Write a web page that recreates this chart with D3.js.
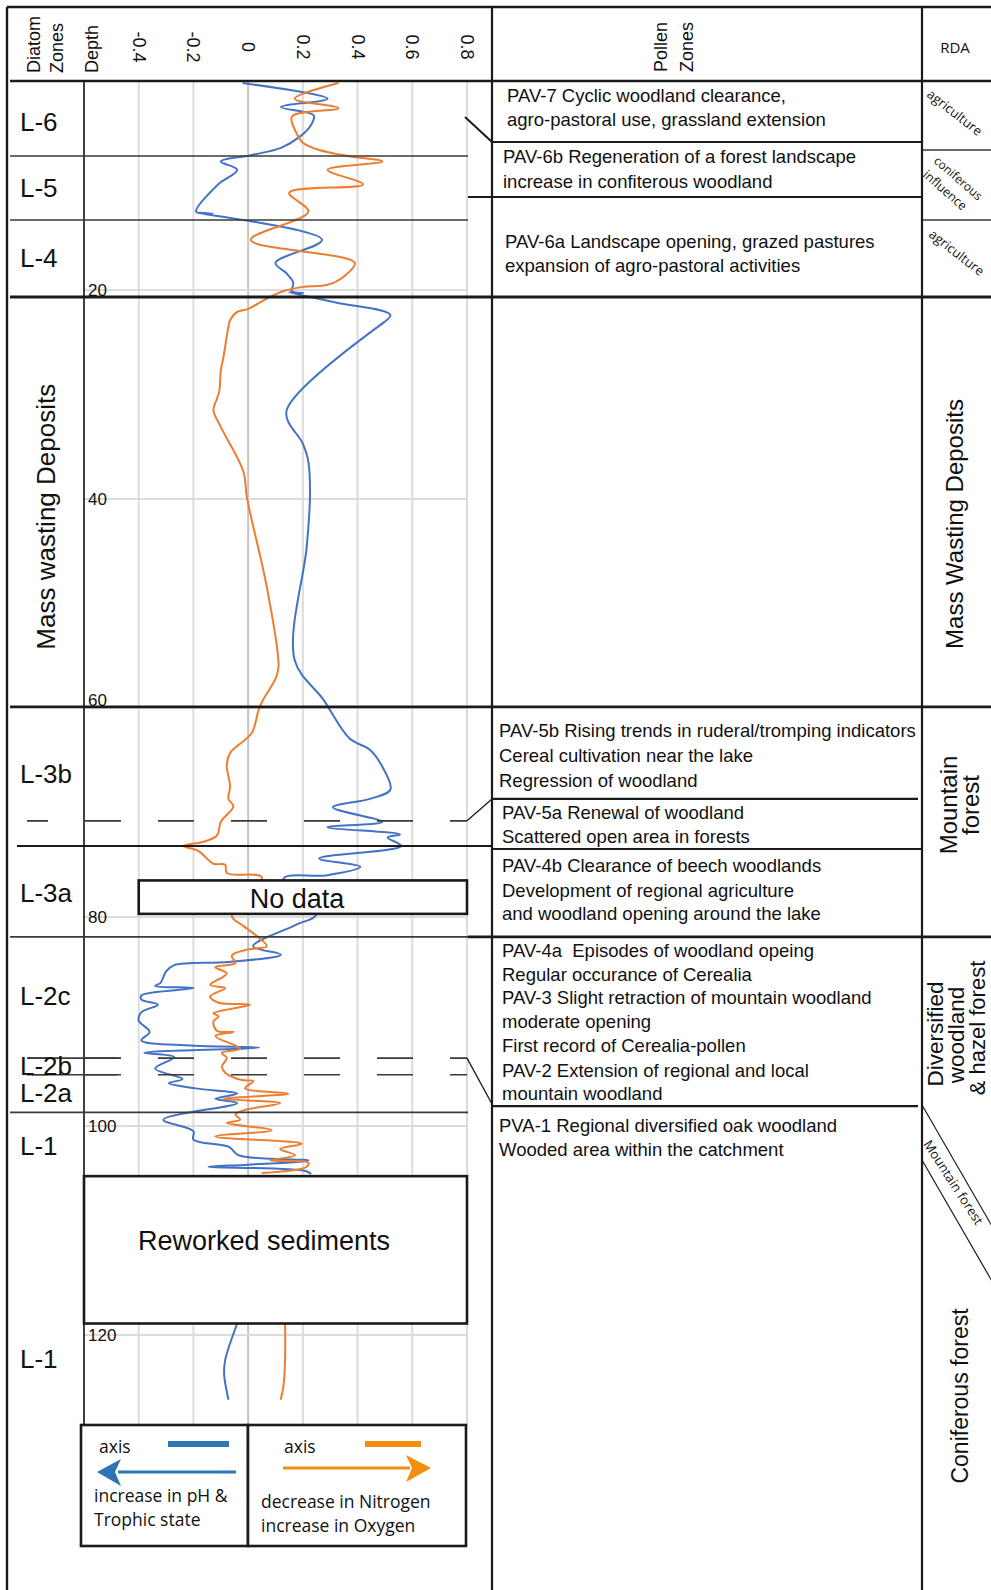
<!DOCTYPE html>
<html><head><meta charset="utf-8">
<script src="https://cdn.jsdelivr.net/npm/d3@7"></script>
<style>body{margin:0;background:#fff}svg{display:block}text{white-space:pre}</style>
</head><body>
<svg id="c" width="991" height="1590"></svg>
<script>
// ---------- DATA ----------
const scoreTicks = [-0.4, -0.2, 0, 0.2, 0.4, 0.6, 0.8];
const depthTicks = [20, 40, 60, 80, 100, 120];

// [depth, score] — blue: pH / trophic axis
const phUpper = [[0.2,-0.02],[1.7,0.29],[2.5,0.12],[3.3,0.24],[4.2,0.23],[5.3,0.19],[6.4,0.12],[7.1,0.01],[7.7,-0.10],[8.5,-0.04],[9.9,-0.11],[12.5,-0.19],[12.7,-0.13],[12.6,-0.18],[15.2,0.27],[17.4,0.10],[18.4,0.14],[19.3,0.165],[20.1,0.16],[20.3,0.20],[20.2,0.15],[21.2,0.32],[22.4,0.52],[23.6,0.47],[23.0,0.50],[31.6,0.14],[34.7,0.20],[36.4,0.22],[39.8,0.226],[44.6,0.214],[55.4,0.17],[59.2,0.275],[62.9,0.37],[64.0,0.445],[65.6,0.49],[67.8,0.52],[68.7,0.445],[69.5,0.31],[70.9,0.49],[71.4,0.29],[72.1,0.555],[72.4,0.51],[73.2,0.56],[74.4,0.26],[75.2,0.41],[76.0,0.29],[76.3,0.13],[79.7,0.25],[80.8,0.17],[82.8,0.018],[83.6,0.12],[84.3,-0.07],[84.6,-0.27],[85.2,-0.30],[86.3,-0.32],[86.6,-0.34],[86.8,-0.20],[87.5,-0.39],[87.9,-0.39],[88.4,-0.33],[89.1,-0.39],[89.9,-0.40],[91.0,-0.36],[91.8,-0.39],[92.3,-0.21],[92.5,0.04],[93.0,-0.38],[93.4,-0.27],[94.5,-0.34],[95.5,-0.24],[95.9,-0.29],[96.4,-0.19],[96.9,-0.04],[97.4,-0.12],[97.8,-0.04],[99.4,-0.31],[100.5,-0.20],[101.3,-0.20],[102.0,-0.07],[102.8,-0.035],[103.3,0.22],[103.7,0.0],[103.9,-0.145],[104.3,0.21],[104.6,0.23]];
const phLower = [[118.9,-0.04],[122.4,-0.084],[123.7,-0.088],[126.2,-0.072]];

// [depth, score] — orange: nitrogen / oxygen axis
const nUpper = [[0.2,0.33],[1.7,0.17],[2.6,0.33],[3.4,0.16],[5.0,0.177],[5.9,0.20],[6.6,0.26],[7.2,0.37],[7.7,0.49],[8.5,0.29],[9.9,0.42],[10.7,0.15],[12.5,0.22],[15.2,0.01],[17.4,0.39],[18.7,0.35],[19.5,0.29],[19.7,0.20],[20.1,0.13],[20.8,0.07],[21.8,0.0],[22.1,-0.04],[22.9,-0.066],[23.5,-0.072],[26.4,-0.09],[27.7,-0.10],[29.6,-0.105],[30.4,-0.114],[31.5,-0.127],[33.1,-0.10],[37.4,-0.017],[39.8,-0.005],[48.4,0.068],[56.0,0.111],[57.2,0.10],[59.2,0.055],[60.2,0.038],[62.4,0.013],[64.3,-0.066],[65.5,-0.078],[67.5,-0.066],[68.7,-0.072],[69.4,-0.054],[70.9,-0.10],[72.2,-0.114],[72.8,-0.163],[73.2,-0.236],[73.7,-0.181],[74.9,-0.127],[75.0,-0.084],[75.8,-0.078],[76.2,0.05],[79.9,-0.06],[80.8,-0.02],[82.0,0.04],[82.8,0.068],[83.1,0.0],[83.7,-0.06],[84.4,-0.047],[84.8,-0.12],[85.4,-0.078],[86.5,-0.139],[86.8,-0.084],[87.6,-0.139],[88.2,-0.108],[88.4,0.007],[89.2,-0.127],[89.5,-0.108],[90.0,-0.127],[90.9,-0.114],[91.0,-0.054],[91.4,-0.12],[92.6,-0.029],[93.0,-0.096],[93.5,-0.078],[94.3,-0.096],[94.9,-0.084],[95.6,-0.023],[95.7,0.019],[96.4,-0.011],[96.9,0.147],[97.4,-0.09],[97.8,0.117],[98.5,-0.017],[98.9,-0.047],[99.4,-0.029],[99.7,-0.078],[100.4,0.086],[101.0,-0.12],[101.7,0.196],[102.2,0.117],[102.8,0.172],[103.3,0.08],[103.5,0.22],[103.9,0.214],[104.5,0.05]];
const nLower = [[118.9,0.135],[122.4,0.135],[124.9,0.129],[126.2,0.119]];

// Diatom zone labels [label, depth of baseline]
const diatomLabels = [["L-6",4.8],["L-5",11.1],["L-4",17.8],["L-3b",67.2],["L-3a",78.6],["L-2c",88.4],["L-2b",95.1],["L-2a",97.7],["L-1",102.8],["L-1",123.2]];
// zone boundaries (depth)
const thinBounds = [7.18, 13.3, 98.7];
const thickBounds = [20.67, 59.9];
const dashedBounds = [70.8, 93.5, 95.1];
// annotation boxes [label, xFrom, xTo, depthFrom, depthTo]
const boxes = [["No data",-0.4,0.8,76.5,79.7],["Reworked sediments",-0.6,0.8,104.8,118.9]];

// Pollen zone text blocks: [x, baselines, lines]
const pollenBlocks = [
 [507,[102,126],["PAV-7 Cyclic woodland clearance,","agro-pastoral use, grassland extension"]],
 [503,[163,188],["PAV-6b Regeneration of a forest landscape","increase in confiterous woodland"]],
 [505,[248,272],["PAV-6a Landscape opening, grazed pastures","expansion of agro-pastoral activities"]],
 [499,[737,762,787],["PAV-5b Rising trends in ruderal/tromping indicators","Cereal cultivation near the lake","Regression of woodland"]],
 [502,[819,843],["PAV-5a Renewal of woodland","Scattered open area in forests"]],
 [502,[872,897,920],["PAV-4b Clearance of beech woodlands","Development of regional agriculture","and woodland opening around the lake"]],
 [502,[957,981,1004,1028,1052,1077,1100],["PAV-4a  Episodes of woodland opeing","Regular occurance of Cerealia","PAV-3 Slight retraction of mountain woodland","moderate opening","First record of Cerealia-pollen","PAV-2 Extension of regional and local","mountain woodland"]],
 [499,[1132,1156],["PVA-1 Regional diversified oak woodland","Wooded area within the catchment"]]
];

// ---------- DRAW ----------
const svg = d3.select("#c");
const SANS = "'Liberation Sans', Arial, sans-serif";
const MYR = "'Open Sans', sans-serif";
const x = d3.scaleLinear().domain([-0.6, 0.8]).range([84, 467]);
const y = d3.scaleLinear().domain([0, 120]).range([81, 1335]);
const plotBottom = 1425;

// grid
const grid = svg.append("g");
grid.selectAll("line.v").data(scoreTicks).join("line")
  .attr("x1", d => x(d)).attr("x2", d => x(d)).attr("y1", y(0)).attr("y2", plotBottom)
  .attr("stroke", d => d === 0 ? "#c4c4c4" : "#dcdcdc").attr("stroke-width", 2);
grid.selectAll("line.h").data(depthTicks).join("line")
  .attr("x1", x(-0.6)).attr("x2", x(0.8)).attr("y1", d => y(d)).attr("y2", d => y(d))
  .attr("stroke", "#dcdcdc").attr("stroke-width", 2);

// depth axis
svg.append("line").attr("x1", x(-0.6)).attr("x2", x(-0.6)).attr("y1", y(0)).attr("y2", plotBottom)
  .attr("stroke", "#111").attr("stroke-width", 1.6);
const dAx = svg.append("g").attr("transform", `translate(${x(-0.6)},0)`)
  .call(d3.axisRight(y).tickValues(depthTicks).tickSize(0).tickPadding(4));
dAx.select(".domain").remove();
dAx.selectAll("text").attr("font-family", SANS).attr("font-size", 17).attr("fill", "#111")
  .attr("dy", d => d === 60 ? "-0.15em" : "0.32em");

// score axis labels (rotated)
const sAx = svg.append("g").attr("transform", "translate(0,47)")
  .call(d3.axisTop(x).tickValues(scoreTicks).tickSize(0).tickFormat(d => d === 0 ? "0" : d.toFixed(1)));
sAx.select(".domain").remove();
sAx.selectAll("text").attr("y", 0).attr("dy", "0.36em").attr("text-anchor", "middle")
  .attr("transform", "rotate(90)").attr("font-family", SANS).attr("font-size", 18).attr("fill", "#111");

// series lines
const line = d3.line().x(d => x(d[1])).y(d => y(d[0])).curve(d3.curveCatmullRom.alpha(0.5));
[[phUpper,"#4472c4"],[phLower,"#4472c4"],[nUpper,"#ed7d31"],[nLower,"#ed7d31"]].forEach(([dat,c]) => {
  svg.append("path").datum(dat).attr("d", line).attr("fill", "none").attr("stroke", c)
    .attr("stroke-width", 2).attr("stroke-linejoin", "round");
});

// annotation boxes
boxes.forEach(([lab,a,b,d0,d1], i) => {
  svg.append("rect").attr("x", x(a)).attr("y", y(d0)).attr("width", x(b) - x(a)).attr("height", y(d1) - y(d0))
    .attr("fill", "#fff").attr("stroke", "#1a1a1a").attr("stroke-width", 2.6);
  svg.append("text").attr("x", i === 0 ? 297 : 264).attr("y", i === 0 ? y(d0) + 28 : y(d0) + 74)
    .attr("text-anchor", "middle").attr("font-family", SANS).attr("font-size", 27).attr("fill", "#111").text(lab);
});

// zone boundary lines
const L = (x1,y1,x2,y2,w,c,dash) => {
  const l = svg.append("line").attr("x1",x1).attr("y1",y1).attr("x2",x2).attr("y2",y2)
    .attr("stroke", c || "#1a1a1a").attr("stroke-width", w);
  if (dash) l.attr("stroke-dasharray", dash).attr("stroke-dashoffset", 15);
  return l;
};
thinBounds.forEach(d => L(10, y(d), 468, y(d), 1.6, "#3a3a3a"));
thickBounds.forEach(d => L(10, y(d), 991, y(d), 2.8));
L(17, y(73.2), 492, y(73.2), 2);          // L-3b / L-3a
L(10, y(81.9), 468, y(81.9), 1.6, "#3a3a3a");
L(468, y(81.9), 991, y(81.9), 2.8);
dashedBounds.forEach(d => L(27, y(d), 467, y(d), 1.6, "#3a3a3a", "36 37"));
L(28, y(dashedBounds[1]), 118, y(dashedBounds[1]), 1.6, "#3a3a3a");
L(32, y(dashedBounds[2]), 117, y(dashedBounds[2]), 1.6, "#3a3a3a");
// pollen zone lines
L(492, y(5.84), 922, y(5.84), 2);
L(468, y(11.1), 922, y(11.1), 2);
L(492, y(68.7), 918, y(68.7), 2.4);
L(492, y(73.5), 922, y(73.5), 2);
L(492, y(98.1), 918, y(98.1), 2.4);
// connectors
L(465, y(3.45), 492, y(5.84), 2);
L(467, y(70.8), 492, y(68.7), 1.3);
L(467, y(93.5), 492, y(97.9), 1.3);
// RDA lines
L(922, y(6.6), 991, y(6.6), 1.6, "#3a3a3a");
L(922, y(13.3), 991, y(13.3), 1.6, "#3a3a3a");
L(922, 1105, 1000, 1240, 1.2);
L(922, 1160, 1000, 1295, 1.2);

// frame
L(7, 7, 991, 7, 2.4);
L(7, 7, 7, 1590, 2.4);
L(492, 7, 492, 1590, 2.2);
L(922, 7, 922, 1590, 2.2);
L(10, 81, 991, 81, 2.4);

// headers
const vtext = (tx, ty, str, size, fam, anchor) => svg.append("text")
  .attr("transform", `translate(${tx},${ty}) rotate(-90)`).attr("text-anchor", anchor || "start")
  .attr("font-family", fam || SANS).attr("font-size", size).attr("fill", "#111").text(str);
vtext(40, 73, "Diatom", 18);
vtext(63, 73, "Zones", 18);
vtext(98, 73, "Depth", 18);
vtext(667, 72, "Pollen", 18);
vtext(693, 72, "Zones", 18);
svg.append("text").attr("x", 955).attr("y", 53).attr("text-anchor", "middle")
  .attr("font-family", MYR).attr("font-size", 15).attr("fill", "#111").text("RDA");

// diatom zone labels
svg.selectAll("text.dz").data(diatomLabels).join("text")
  .attr("x", 20).attr("y", d => y(d[1])).attr("font-family", SANS).attr("font-size", 26).attr("fill", "#111")
  .text(d => d[0]);
vtext(55, y(41.7), "Mass wasting Deposits", 26, SANS, "middle");

// pollen texts
pollenBlocks.forEach(([px, ys, lines]) => {
  lines.forEach((t, i) => svg.append("text").attr("x", px).attr("y", ys[i])
    .attr("font-family", SANS).attr("font-size", 18.5).attr("fill", "#111").text(t));
});

// RDA column texts
const rtext = (tx, ty, ang, str, size) => svg.append("text")
  .attr("transform", `translate(${tx},${ty}) rotate(${ang})`).attr("font-family", MYR)
  .attr("font-size", size).attr("fill", "#111").text(str);
rtext(926, 96, 38, "agriculture", 13);
rtext(933, 162, 41, "coniferous", 12);
rtext(922, 176, 41, "influence", 12.5);
rtext(928, 236, 38, "agriculture", 13);
rtext(923, 1144, 57, "Mountain forest", 13);
vtext(963, 524, "Mass Wasting Deposits", 24, SANS, "middle");
vtext(957, 805, "Mountain", 24, SANS, "middle");
vtext(979, 805, "forest", 24, SANS, "middle");
vtext(943, 1034, "Diversified", 22.5, SANS, "middle");
vtext(964, 1035, "woodland", 22.5, SANS, "middle");
vtext(985, 1028, "& hazel forest", 22, SANS, "middle");
vtext(968, 1396, "Coniferous forest", 23, SANS, "middle");

// legend
const lg = svg.append("g");
lg.append("rect").attr("x", 81).attr("y", 1425).attr("width", 167).attr("height", 121)
  .attr("fill", "#fff").attr("stroke", "#1a1a1a").attr("stroke-width", 2.6);
lg.append("rect").attr("x", 248).attr("y", 1425).attr("width", 218).attr("height", 121)
  .attr("fill", "#fff").attr("stroke", "#1a1a1a").attr("stroke-width", 2.6);
const BL = "#2e75b6", OR = "#f0900e";
const lt = (tx, ty, s) => lg.append("text").attr("x", tx).attr("y", ty).attr("font-family", MYR)
  .attr("font-size", 17.5).attr("fill", "#111").text(s);
lt(99, 1453, "axis");
lg.append("line").attr("x1", 168).attr("x2", 229).attr("y1", 1444).attr("y2", 1444).attr("stroke", BL).attr("stroke-width", 6);
lg.append("line").attr("x1", 118).attr("x2", 236).attr("y1", 1472).attr("y2", 1472).attr("stroke", BL).attr("stroke-width", 3);
lg.append("path").attr("d", "M97,1472 L121,1459 L115,1472 L121,1486 Z").attr("fill", BL);
lt(94, 1502, "increase in pH &");
lt(94, 1526, "Trophic state");
lt(284, 1453, "axis");
lg.append("line").attr("x1", 365).attr("x2", 421).attr("y1", 1444).attr("y2", 1444).attr("stroke", OR).attr("stroke-width", 6);
lg.append("line").attr("x1", 283).attr("x2", 410).attr("y1", 1468).attr("y2", 1468).attr("stroke", OR).attr("stroke-width", 3);
lg.append("path").attr("d", "M431,1468 L406,1455 L412,1468 L406,1482 Z").attr("fill", OR);
lt(261, 1508, "decrease in Nitrogen");
lt(261, 1532, "increase in Oxygen");
</script>
</body></html>
